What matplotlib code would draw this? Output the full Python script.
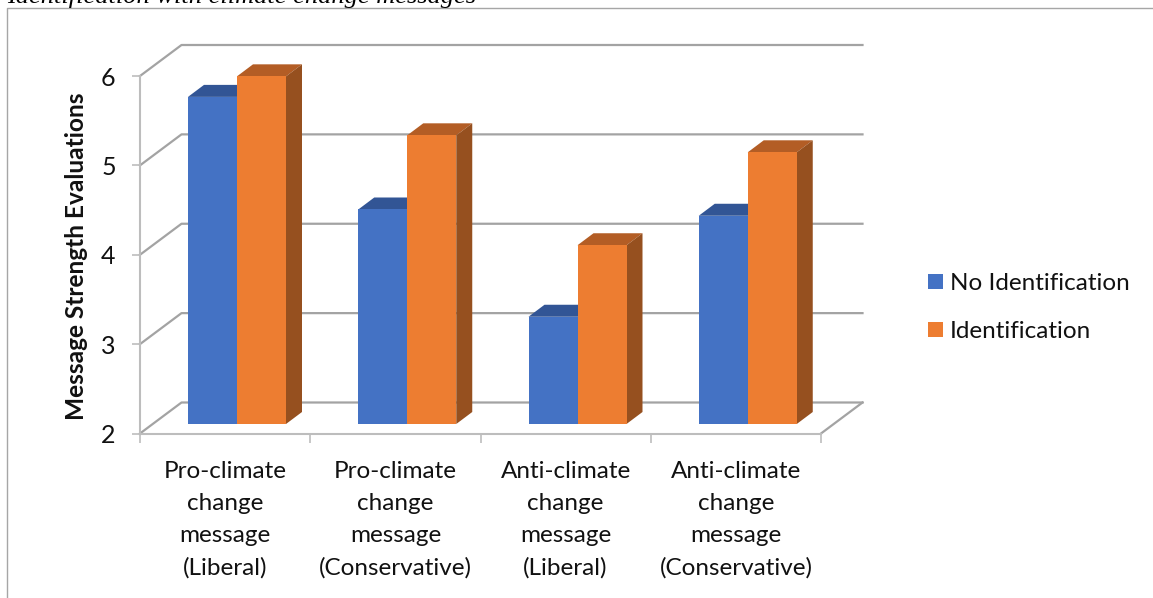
#!/usr/bin/env python

import matplotlib
matplotlib.use('Agg')
import matplotlib.pyplot as plt
import numpy as np
from matplotlib import transforms

plt.rcParams['font.family'] = ['Lato', 'DejaVu Sans']

# Data
categories = ['Pro-climate\nchange\nmessage\n(Liberal)',
              'Pro-climate\nchange\nmessage\n(Conservative)',
              'Anti-climate\nchange\nmessage\n(Liberal)',
              'Anti-climate\nchange\nmessage\n(Conservative)']
no_identification = [5.66, 4.40, 3.20, 4.33]
identification = [5.89, 5.23, 4.00, 5.04]
series_names = ['No Identification', 'Identification']
y_ticks = [2, 3, 4, 5, 6]

W, H = 1153, 598
L, R, B, T = 140, 821, 433.5, 76      # front plane of the axes, pixels
fig = plt.figure(figsize=(W / 100, H / 100), dpi=100)
ax = fig.add_axes([L / W, 1 - B / H, (R - L) / W, (B - T) / H])
ax.set_xlim(0, 4)
ax.set_ylim(2, 6)

px_x = 4 / (R - L)
px_y = 4 / (B - T)
GRID = '#a3a3a3'
AXIS = '#bdbdbd'

# back wall and side wall lines
wall_dx, wall_dy = 41.5 * px_x, 31 * px_y
for v in y_ticks:
    ax.plot([0, wall_dx, 4 + wall_dx], [v, v + wall_dy, v + wall_dy],
            color=GRID, lw=1.6, clip_on=False, zorder=1)
ax.plot([4, 4 + wall_dx], [2, 2 + wall_dy], color=GRID, lw=1.6, clip_on=False, zorder=1)

# bars sit a little behind the front plane
shift = transforms.ScaledTranslation(0, 9.5 / 100, fig.dpi_scale_trans)
bar_tr = ax.transData + shift
bar_w = 49 * px_x
depth_x, depth_y = 16 * px_x, 12 * px_y
first = 48 * px_x


def draw_series(x, vals, col, top, side, label):
    ax.bar(x, np.array(vals) - 2, bar_w, bottom=2, align='edge', color=col,
           transform=bar_tr, clip_on=False, zorder=3, label=label)
    for xi, v in zip(x, vals):
        ax.fill([xi, xi + depth_x, xi + bar_w + depth_x, xi + bar_w],
                [v, v + depth_y, v + depth_y, v], color=top, lw=0,
                transform=bar_tr, clip_on=False, zorder=2)
        ax.fill([xi + bar_w, xi + bar_w + depth_x, xi + bar_w + depth_x, xi + bar_w],
                [2, 2 + depth_y, v + depth_y, v], color=side, lw=0,
                transform=bar_tr, clip_on=False, zorder=2)


pos = np.arange(len(categories)) + first
draw_series(pos, no_identification, '#4472c4', '#325595', '#2f5290', series_names[0])
draw_series(pos + bar_w, identification, '#ed7d31', '#b35d25', '#96501f', series_names[1])

# axes
for s in ['top', 'right']:
    ax.spines[s].set_visible(False)
for s in ['left', 'bottom']:
    ax.spines[s].set_color(AXIS)
    ax.spines[s].set_linewidth(1.5)
ax.set_yticks(y_ticks)
ax.set_xticks(np.arange(5))
ax.set_xticklabels([])
ax.set_xticks(np.arange(4) + 0.5, categories, minor=True)
ax.tick_params(axis='x', which='major', length=6.5, width=1.2, color=AXIS)
ax.tick_params(axis='x', which='minor', length=0, pad=19.5, labelsize=17.5, labelcolor='#111111')
ax.tick_params(axis='y', length=5.5, width=1.2, color=AXIS, pad=12, labelsize=18, labelcolor='#111111')
for t in ax.get_xticklabels(minor=True):
    t.set_linespacing(1.65)

ax.legend(loc='upper left', bbox_to_anchor=(927.5 / W, 1 - 273 / H),
          bbox_transform=fig.transFigure, frameon=False, fontsize=17.5,
          handlelength=0.62, handleheight=0.62, handletextpad=0.3,
          labelspacing=1.11, borderpad=0, borderaxespad=0, labelcolor='#111111')

fig.text(77 / W, 1 - 256.5 / H, 'Message Strength Evaluations', rotation=90,
         fontsize=17.6, fontweight='bold', ha='center', va='center', color='#111111')

# chart frame and the caption cut by the crop
fig.add_artist(plt.Line2D([7 / W, 7 / W, 1], [0, 1 - 8 / H, 1 - 8 / H], color='#a6a6a6', lw=1))
fig.text(7 / W, 1 - 3 / H, 'Identification with climate change messages', fontsize=19,
         family='Liberation Serif', style='italic', color='black', ha='left', va='baseline')

fig.savefig('out.png', dpi=100)
